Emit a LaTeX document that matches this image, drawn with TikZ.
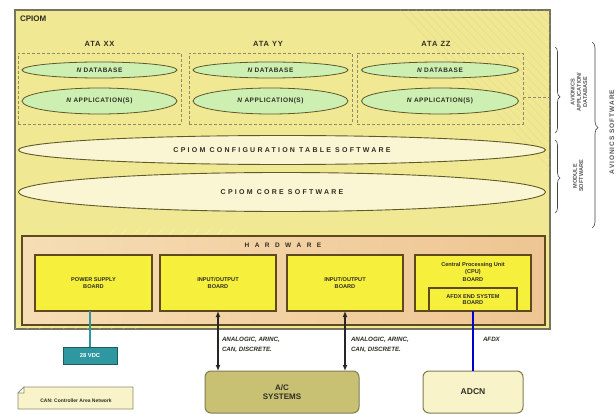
\documentclass[tikz,border=0pt]{standalone}
\usepackage{fontspec}
\setmainfont{Liberation Sans}
\usetikzlibrary{shapes.geometric,arrows.meta,decorations.pathreplacing,calc}

\definecolor{cpiomfill}{HTML}{F0E893}
\definecolor{cpiomborder}{HTML}{77745E}
\definecolor{greenfill}{HTML}{CDEFB2}
\definecolor{olivedark}{HTML}{5E5A2A}
\definecolor{creamfill}{HTML}{FAF6D4}
\definecolor{hwfill}{HTML}{EEC592}
\definecolor{hwlight}{HTML}{F6DDB4}
\definecolor{boardfill}{HTML}{F6F03C}
\definecolor{boardborder}{HTML}{5E4A1E}
\definecolor{tealbox}{HTML}{2E97A0}
\definecolor{acfill}{HTML}{C8C174}
\definecolor{adcnfill}{HTML}{F8F3C8}
\definecolor{labelgray}{HTML}{555555}
\definecolor{textdark}{HTML}{2E2E22}

\tikzset{
  every node/.style={inner sep=0pt, outer sep=0pt, align=center, text=textdark},
  cpiombox/.style={draw=cpiomborder, line width=1.4pt, fill=cpiomfill},
  atabox/.style={draw=olivedark!70, line width=0.6pt, dash pattern=on 3pt off 2pt},
  greenell/.style={ellipse, draw=olivedark, line width=0.8pt, fill=greenfill,
     font=\fontsize{6.5}{7}\selectfont\bfseries\addfontfeature{LetterSpace=8}},
  bigell/.style={ellipse, draw=olivedark, line width=0.9pt, fill=creamfill,
     font=\fontsize{7}{8}\selectfont\bfseries\addfontfeature{LetterSpace=32}},
  hwbox/.style={draw=boardborder, line width=1.2pt, left color=hwlight, right color=hwfill},
  board/.style={draw=boardborder, line width=1.5pt, fill=boardfill,
     font=\fontsize{5.6}{6.8}\selectfont\bfseries},
  atalabel/.style={font=\fontsize{7.5}{8}\selectfont\bfseries\addfontfeature{LetterSpace=12}},
  sidelabel/.style={rotate=90, text=labelgray, font=\fontsize{5.6}{6.2}\selectfont\bfseries},
  bracestyle/.style={decorate, draw=labelgray!80!black, line width=0.6pt},
  buslabel/.style={anchor=west, align=left, font=\fontsize{6.2}{10}\selectfont\bfseries\itshape},
  dblarrow/.style={{Latex[length=6pt,width=5pt]}-{Latex[length=6pt,width=5pt]}, line width=1.2pt, draw=black!85},
}

\begin{document}
\begin{tikzpicture}[x=1pt,y=-1pt]
\useasboundingbox (0,0) rectangle (616,414);
\clip (0,0) rectangle (616,414);
\fill[white] (0,0) rectangle (616,414);

% CPIOM outer box
\node[cpiombox, minimum width=535pt, minimum height=319pt] (cpiom) at (282.5,169.5) {};
% faint texture
\begin{scope}
  \clip (15,10) rectangle (550,329);
  \foreach \i in {0,8,...,160} {
    \draw[cpiomfill!80!olivedark, line width=0.5pt, opacity=0.35] (400+\i,10) -- (560+\i,-150+329);
  }
  \foreach \i in {0,12,...,120} {
    \draw[white, line width=0.8pt, opacity=0.25] (15+\i,329) -- (115+\i,229);
  }
\end{scope}
\node[anchor=north west, font=\fontsize{8}{9}\selectfont\bfseries] (cpiomlbl) at (20,16) {CPIOM};

% ATA boxes
\node[atabox, minimum width=163pt, minimum height=71pt] (ataxbox) at (99.5,88.5) {};
\node[atabox, minimum width=163pt, minimum height=71pt] (ataybox) at (270.5,88.5) {};
\node[atabox, minimum width=166pt, minimum height=71pt] (atazbox) at (440,88.5) {};
\node[atalabel] (atax) at (99.5,44) {ATA XX};
\node[atalabel] (atay) at (268,44) {ATA YY};
\node[atalabel] (ataz) at (436,44) {ATA ZZ};

\node[greenell, minimum width=155pt, minimum height=16pt] (dbx) at (99.5,70) {\itshape N\upshape\ DATABASE};
\node[greenell, minimum width=155pt, minimum height=26pt] (appx) at (99.5,101) {\itshape N\upshape\ APPLICATION(S)};
\node[greenell, minimum width=155pt, minimum height=16pt] (dby) at (270.5,70) {\itshape N\upshape\ DATABASE};
\node[greenell, minimum width=155pt, minimum height=26pt] (appy) at (270.5,101) {\itshape N\upshape\ APPLICATION(S)};
\node[greenell, minimum width=157pt, minimum height=16pt] (dbz) at (440,70) {\itshape N\upshape\ DATABASE};
\node[greenell, minimum width=157pt, minimum height=26pt] (appz) at (440,101) {\itshape N\upshape\ APPLICATION(S)};

\coordinate (dashend) at (549,97);
\draw[atabox] (atazbox.east |- dashend) -- (dashend);

% software ellipses
\node[bigell, minimum width=527pt, minimum height=29pt] (config) at (282,150) {CPIOM CONFIGURATION TABLE SOFTWARE};
\node[bigell, minimum width=527pt, minimum height=39pt] (core) at (282,192) {CPIOM CORE SOFTWARE};

% hardware
\node[hwbox, minimum width=523pt, minimum height=89pt] (hw) at (283.5,280.5) {};
\node[font=\fontsize{6.5}{7}\selectfont\bfseries] (hwlbl) at (283,245) {H\ \ \ A\ \ \ R\ \ \ D\ \ \ W\ \ \ A\ \ \ R\ \ \ E};

\node[board, minimum width=117pt, minimum height=56pt] (power) at (93.5,283) {POWER SUPPLY\\BOARD};
\node[board, minimum width=116pt, minimum height=56pt] (io1) at (218,283) {INPUT/OUTPUT\\BOARD};
\node[board, minimum width=116pt, minimum height=56pt] (io2) at (345,283) {INPUT/OUTPUT\\BOARD};
\node[board, minimum width=116pt, minimum height=56pt] (cpu) at (473,283) {};
\node[board, font=\fontsize{5.6}{7.5}\selectfont\bfseries, draw=none, fill=none] (cputxt) at (473,271.5) {Central Processing Unit\\(CPU)\\BOARD};
\node[board, line width=1.1pt, minimum width=88pt, minimum height=23pt] (afdxbrd) at (473,299.5) {AFDX END SYSTEM\\BOARD};

% external elements
\node[fill=tealbox, draw=tealbox!60!black, line width=0.6pt, minimum width=54pt, minimum height=17pt,
      text=white, font=\fontsize{5.8}{6.5}\selectfont\bfseries] (vdc) at (90,355.5) {28 VDC};
\draw[tealbox, line width=1.3pt] (vdc.north) -- (vdc.north |- power.south);

\node[draw=olivedark!80, line width=1pt, rounded corners=6pt, fill=acfill, minimum width=154pt, minimum height=42pt,
      font=\fontsize{8}{9.5}\selectfont\bfseries] (acsys) at (282,392) {A/C\\SYSTEMS};
\node[draw=olivedark!80, line width=1pt, rounded corners=6pt, fill=adcnfill, minimum width=100pt, minimum height=42pt,
      font=\fontsize{8.5}{10}\selectfont\bfseries] (adcn) at (473,392) {ADCN};

\draw[dblarrow] (io1.south) -- (io1.south |- acsys.north);
\draw[dblarrow] (io2.south) -- (io2.south |- acsys.north);
\draw[blue!80!black, line width=2pt] (afdxbrd.south) -- (afdxbrd.south |- adcn.north);

\node[buslabel] (bus1) at (222,344.5) {ANALOGIC, ARINC,\\CAN, DISCRETE.};
\node[buslabel] (bus2) at (351,344.5) {ANALOGIC, ARINC,\\CAN, DISCRETE.};
\node[buslabel] (afdxlbl) at (483,339.5) {AFDX};

% CAN note
\draw[draw=olivedark!70, line width=0.8pt, fill=adcnfill] (18,393) -- (24,387) -- (133,387) -- (133,409) -- (18,409) -- cycle;
\draw[draw=olivedark!70, line width=0.6pt, fill=white] (18,393) -- (24,387) -- (24,393) -- cycle;
\node[font=\fontsize{5}{6}\selectfont\bfseries] (cannote) at (76,401) {CAN: Controller Area Network};

% braces
\draw[bracestyle, decoration={brace, amplitude=5pt, aspect=0.58}] (555,47) -- (555,133);
\draw[bracestyle, decoration={brace, amplitude=5pt, aspect=0.52}] (555,140) -- (555,213);
\draw[bracestyle, decoration={brace, amplitude=6pt, aspect=0.46}] (592,42) -- (592,228);
\node[sidelabel] (avapp) at (579,92) {AVIONICS\\APPLICATION/\\DATABASE};
\node[sidelabel] (modsw) at (578,176) {MODULE\\SOFTWARE};
\node[sidelabel, font=\fontsize{6.5}{7}\selectfont\bfseries\addfontfeature{LetterSpace=15}] (avsw) at (612,132) {AVIONICS SOFTWARE};
\end{tikzpicture}
\end{document}
